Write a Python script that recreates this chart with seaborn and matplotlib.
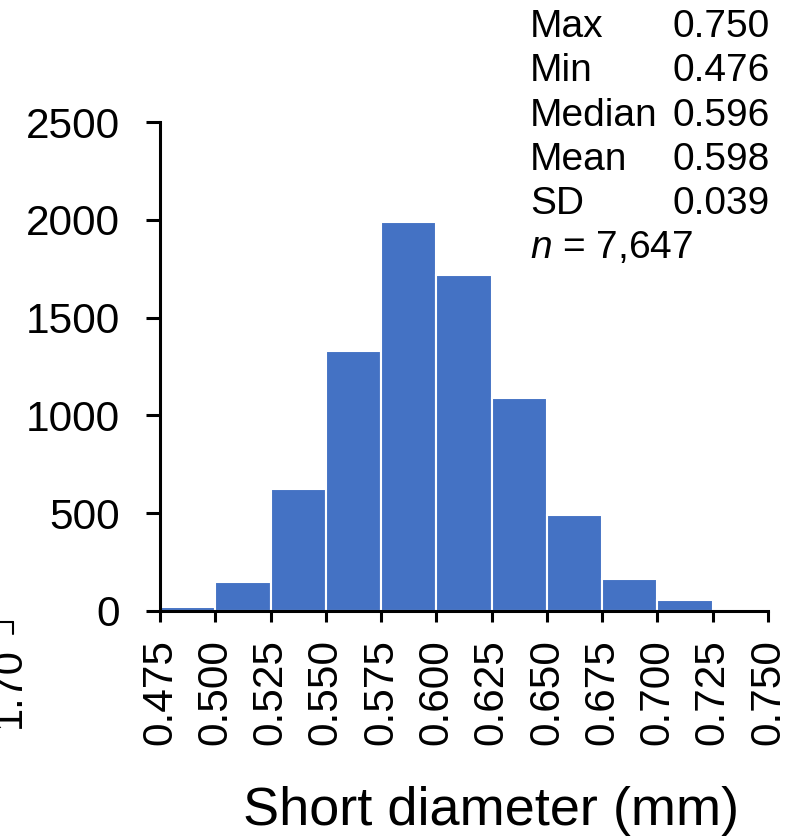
import matplotlib
matplotlib.use("Agg")
import matplotlib.pyplot as plt
from matplotlib.lines import Line2D
import seaborn as sns
import numpy as np

# ---- data ----
bin_edges = [0.475, 0.500, 0.525, 0.550, 0.575, 0.600, 0.625, 0.650, 0.675, 0.700, 0.725, 0.750]
counts = [20, 148, 624, 1329, 1989, 1718, 1089, 491, 162, 55, 2]
x_tick_labels = ["0.475", "0.500", "0.525", "0.550", "0.575", "0.600",
                 "0.625", "0.650", "0.675", "0.700", "0.725", "0.750"]
y_ticks = [0, 500, 1000, 1500, 2000, 2500]
stat_names = ["Max", "Min", "Median", "Mean", "SD"]
stat_values = ["0.750", "0.476", "0.596", "0.598", "0.039"]
n_label = "$n$ = 7,647"
x_label = "Short diameter (mm)"

sns.set_theme(style="white")
plt.rcParams['font.family'] = ['Liberation Sans', 'DejaVu Sans']
plt.rcParams['mathtext.fontset'] = 'custom'
plt.rcParams['mathtext.it'] = 'Liberation Sans:italic'
plt.rcParams['mathtext.rm'] = 'Liberation Sans'
plt.rcParams['text.color'] = 'black'
plt.rcParams['axes.labelcolor'] = 'black'
plt.rcParams['xtick.color'] = 'black'
plt.rcParams['ytick.color'] = 'black'

W, H = 799, 836
fig = plt.figure(figsize=(W / 100, H / 100), dpi=100)
ax = fig.add_axes([160 / W, 1 - 611 / H, 608 / W, 489 / H])

centers = [(bin_edges[i] + bin_edges[i + 1]) / 2 for i in range(len(counts))]
sns.histplot(x=centers, weights=counts, bins=bin_edges, ax=ax,
             color="#4472C4", alpha=1.0, edgecolor="white", linewidth=1.5)

ax.set_xlim(bin_edges[0], bin_edges[-1])
ax.set_ylim(0, 2500)
ax.set_xticks(bin_edges)
ax.set_xticklabels(x_tick_labels, rotation=90)
ax.set_yticks(y_ticks)
ax.set_yticklabels([str(v) for v in y_ticks])
ax.set_ylabel("")
ax.set_xlabel(x_label, fontsize=39, labelpad=30, color="black", x=0.544)

for s in ["top", "right"]:
    ax.spines[s].set_visible(False)
for s in ["left", "bottom"]:
    ax.spines[s].set_color("black")
    ax.spines[s].set_linewidth(2.2)

ax.tick_params(axis="y", direction="out", length=10, width=2.2, color="black",
               labelcolor="black", labelsize=30.5, pad=19, left=True)
ax.tick_params(axis="x", direction="out", length=8, width=2.2, color="black",
               labelcolor="black", labelsize=30.5, pad=12, bottom=True)

# stats text block
ys = [27, 71, 116, 160, 204]
for name, val, y in zip(stat_names, stat_values, ys):
    fig.text(530 / W, 1 - y / H, name, fontsize=28, ha="left", va="center", color="black")
    fig.text(770 / W, 1 - y / H, val, fontsize=28, ha="right", va="center", color="black")
fig.text(530 / W, 1 - 248 / H, n_label, fontsize=28, ha="left", va="center", color="black")

# clipped fragment of neighbouring panel
fig.text(29 / W, 1 - 688 / H, "1.70", fontsize=30, rotation=90, ha="right", va="center",
         color="black")
fig.add_artist(Line2D([0, 13 / W], [1 - 622 / H, 1 - 622 / H], color="black", lw=1.5,
                      transform=fig.transFigure))
fig.add_artist(Line2D([13 / W, 13 / W], [1 - 622 / H, 1 - 634 / H], color="black", lw=1.5,
                      transform=fig.transFigure))

fig.savefig("out.png", dpi=100)
